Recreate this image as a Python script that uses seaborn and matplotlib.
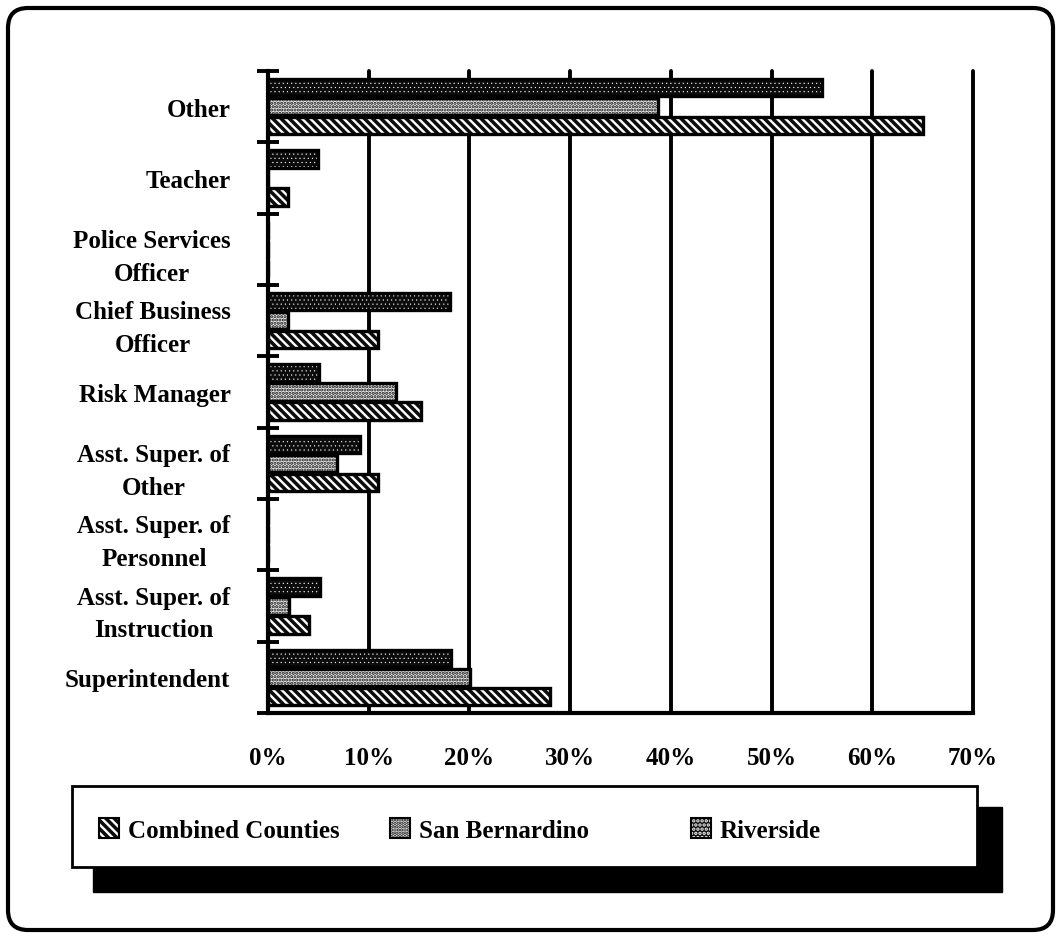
import numpy as np
import pandas as pd
import matplotlib
matplotlib.use("Agg")
import matplotlib.pyplot as plt
import seaborn as sns
from matplotlib.patches import Patch, Rectangle, FancyBboxPatch

# Positions responsible for the program, top to bottom
positions = [
    "Other",
    "Teacher",
    "Police Services\nOfficer",
    "Chief Business\nOfficer",
    "Risk Manager",
    "Asst. Super. of\nOther",
    "Asst. Super. of\nPersonnel",
    "Asst. Super. of\nInstruction",
    "Superintendent",
]

# Percent of districts, per county group
riverside = [55.0, 5.0, 0.0, 18.1, 5.1, 9.1, 0.0, 5.2, 18.2]
san_bernardino = [38.7, 0.0, 0.0, 2.0, 12.7, 6.9, 0.0, 2.1, 20.1]
combined_counties = [65.0, 2.0, 0.0, 10.9, 15.2, 10.9, 0.0, 4.1, 28.0]

series_names = ["Riverside", "San Bernardino", "Combined Counties"]
legend_order = ["Combined Counties", "San Bernardino", "Riverside"]

x_ticks = [0, 10, 20, 30, 40, 50, 60, 70]
x_tick_labels = ["0%", "10%", "20%", "30%", "40%", "50%", "60%", "70%"]

df = pd.DataFrame({
    "position": positions * 3,
    "county": sum([[name] * len(positions) for name in series_names], []),
    "pct": riverside + san_bernardino + combined_counties,
})

# Fill styles: (face colour, hatch, hatch colour, hatch line width)
fills = {
    "Riverside": ("#0c0c0c", "....", "white", 0.3),
    "San Bernardino": ("#f0f0f0", ".....", "#101010", 1.55),
    "Combined Counties": ("#0c0c0c", "\\\\\\\\", "white", 1.7),
}

sns.set_style("white")
plt.rcParams["font.family"] = ["Liberation Serif", "DejaVu Serif"]
plt.rcParams["font.weight"] = "bold"
plt.rcParams["text.color"] = "black"
plt.rcParams["xtick.color"] = "black"
plt.rcParams["ytick.color"] = "black"
plt.rcParams["hatch.linewidth"] = 1.7


def style_patch(p, name):
    fc, hatch, hc, hlw = fills[name]
    p.set_facecolor(fc)
    p.set_hatch(hatch)
    p.set_edgecolor(hc)
    p.set_linewidth(0)
    if hasattr(p, "set_hatch_linewidth"):
        p.set_hatch_linewidth(hlw)
    return p


W, H = 1056, 937
fig = plt.figure(figsize=(W / 100, H / 100), dpi=100)
fig.patch.set_facecolor("white")

ax = fig.add_axes([268 / W, 1 - 714 / H, (973 - 268) / W, (714 - 72) / H])

common = dict(data=df, y="position", x="pct", hue="county", order=positions,
              hue_order=series_names, orient="h", width=0.8, gap=0.1,
              errorbar=None, legend=False, ax=ax)

# Pass 1: patterned fills
sns.barplot(palette=["#777777"] * 3, saturation=1, linewidth=0, **common)
for name, container in zip(series_names, ax.containers):
    for bar in container:
        style_patch(bar, name)

# Pass 2: black outlines
sns.barplot(palette=["black"] * 3, fill=False, linewidth=2.4, **common)

ax.set_xlim(0, 70)
ax.set_ylim(len(positions) - 0.5, -0.5)
ax.set_xlabel("")
ax.set_ylabel("")

ax.set_xticks(x_ticks, labels=x_tick_labels)
ax.grid(axis="x", color="black", linewidth=2.8)
ax.grid(axis="y", visible=False)
ax.set_axisbelow(True)
for gl in ax.get_xgridlines():
    gl.set_clip_on(False)
ax.tick_params(axis="x", direction="out", length=10, width=2.8, color="black",
               pad=14, labelsize=18)

# Category boundary ticks, labels centred between them
bounds = np.arange(-0.5, len(positions), 1.0)
ax.set_yticks(bounds, labels=[""] * len(bounds))
ax.set_yticks(np.arange(len(positions)), labels=positions, minor=True)
ax.tick_params(axis="y", which="major", direction="inout", length=16,
               width=2.8, color="black", left=True)
ax.tick_params(axis="y", which="minor", length=0, pad=27, labelsize=18)
for lbl in ax.get_yticklabels(minor=True):
    lbl.set_multialignment("center")
    lbl.set_linespacing(1.55)
    lbl.set_fontweight("bold")
for lbl in ax.get_xticklabels():
    lbl.set_fontweight("bold")

for side in ["top", "right"]:
    ax.spines[side].set_visible(False)
for side in ["left", "bottom"]:
    ax.spines[side].set_color("black")
    ax.spines[side].set_linewidth(3)

inch = fig.dpi_scale_trans

# Outer rounded frame
fig.patches.append(FancyBboxPatch((0.08, 0.06), 10.45, 9.22,
                                  boxstyle="round,pad=0,rounding_size=0.2",
                                  transform=inch, fill=False,
                                  edgecolor="black", linewidth=3))

# Legend panel with drop shadow
fig.patches.append(Rectangle((0.93, 0.44), 9.09, 0.85, transform=inch,
                             facecolor="black", edgecolor="black"))
fig.patches.append(Rectangle((0.72, 0.69), 9.05, 0.81, transform=inch,
                             facecolor="white", edgecolor="black",
                             linewidth=2))

legend_x = {"Combined Counties": 0.99, "San Bernardino": 3.90,
            "Riverside": 6.91}
for name in legend_order:
    handle = (style_patch(Patch(), name),
              Patch(fill=False, edgecolor="black", linewidth=1.5))
    fig.legend([handle], [name], loc="center left",
               bbox_to_anchor=(legend_x[name], 1.06),
               bbox_transform=inch, frameon=False, borderpad=0,
               borderaxespad=0, handlelength=0.8, handleheight=0.8,
               handletextpad=0.35,
               prop={"family": ["Liberation Serif", "DejaVu Serif"],
                     "weight": "bold", "size": 18})

fig.savefig("out.png", dpi=100, facecolor="white")
